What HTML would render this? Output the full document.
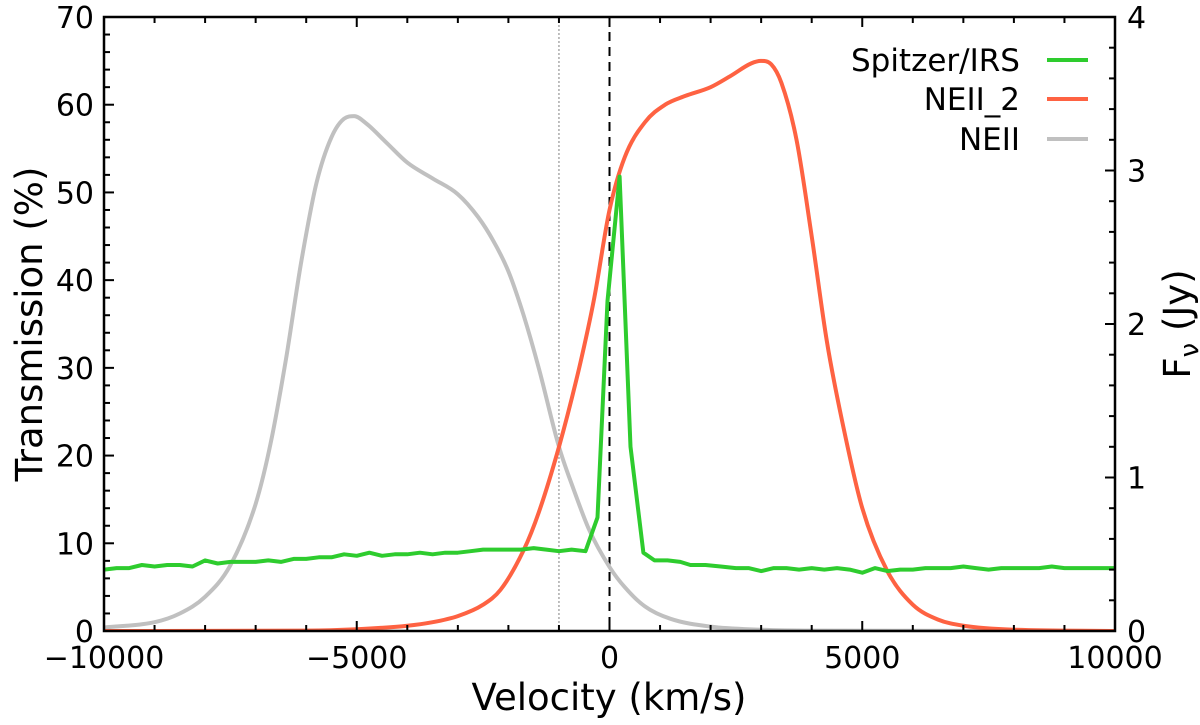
<!DOCTYPE html>
<html><head><meta charset="utf-8"><style>
body{margin:0;background:#fff;}
svg{display:block;font-family:"DejaVu Sans","Liberation Sans",sans-serif;}
</style></head><body>
<svg id="chart" width="1200" height="725" viewBox="0 0 1200 725"></svg>
<script>
// ---- data ----
const neiiV = [-10000,-9000,-8500,-8000,-7500,-7000,-6700,-6400,-6100,-5800,-5500,-5250,-5050,-4800,-4400,-4000,-3500,-3000,-2600,-2300,-2000,-1700,-1400,-1000,-700,-400,0,300,700,1200,2000,3000,4000,10000];
const neiiT = [0.4,1.0,2.0,3.9,7.5,14.5,21.5,31,42,51,56.3,58.4,58.7,57.8,55.6,53.4,51.6,49.8,47.2,44.5,41,36,30,21,16,11.5,7.3,5,2.8,1.4,0.5,0.15,0.05,0];
const neii2V = [-10000,-6000,-5000,-4000,-3500,-3000,-2500,-2156,-1700,-1400,-1000,-600,-300,0,300,700,1100,1500,2000,2400,2800,3000,3200,3400,3700,4000,4300,4600,5000,5500,6000,6500,7000,8000,10000];
const neii2T = [0,0.05,0.2,0.6,1.0,1.7,3.0,4.7,9.2,13.5,21,30,38,48,54,58,60,61,62,63.3,64.7,65,64.6,62.5,56,45,33,24,14,6.8,3,1.3,0.6,0.15,0];
const irsV = [-10000,-9750,-9500,-9250,-9000,-8750,-8500,-8250,-8000,-7750,-7500,-7250,-7000,-6750,-6500,-6250,-6000,-5750,-5500,-5250,-5000,-4750,-4500,-4250,-4000,-3750,-3500,-3250,-3000,-2750,-2500,-2250,-2000,-1750,-1500,-1250,-1000,-750,-475,-237,-40,200,415,670,890,1150,1400,1600,1900,2200,2500,2750,3000,3250,3500,3750,4000,4250,4500,4750,5000,5250,5500,5750,6000,6250,6500,6750,7000,7250,7500,7750,8000,8250,8500,8750,9000,9250,9500,9750,10000];
const irsF = [0.40,0.41,0.41,0.43,0.42,0.43,0.43,0.42,0.46,0.44,0.45,0.45,0.45,0.46,0.45,0.47,0.47,0.48,0.48,0.50,0.49,0.51,0.49,0.50,0.50,0.51,0.50,0.51,0.51,0.52,0.53,0.53,0.53,0.53,0.54,0.53,0.52,0.53,0.52,0.74,2.15,2.96,1.20,0.51,0.46,0.46,0.45,0.43,0.43,0.42,0.41,0.41,0.39,0.41,0.41,0.40,0.41,0.40,0.41,0.40,0.38,0.41,0.39,0.40,0.40,0.41,0.41,0.41,0.42,0.41,0.40,0.41,0.41,0.41,0.41,0.42,0.41,0.41,0.41,0.41,0.41];
const xTicks = [-10000,-5000,0,5000,10000];
const xTickLabels = ["\u221210000","\u22125000","0","5000","10000"];
const yTicks = [0,10,20,30,40,50,60,70];
const y2Ticks = [0,1,2,3,4];

// ---- layout ----
const L=104,R=1115,T=17,B=631;
const sx=v=>L+(v+10000)/20000*(R-L);
const sy=v=>B-v/70*(B-T);
const sy2=v=>B-v/4*(B-T);
const svg=document.getElementById('chart');
const NS='http://www.w3.org/2000/svg';
function mk(tag,attrs,parent){const e=document.createElementNS(NS,tag);for(const k in attrs)e.setAttribute(k,attrs[k]);(parent||svg).appendChild(e);return e;}

function smoothPath(xs,ys){
  const n=xs.length,d=[],m=new Array(n);
  for(let i=0;i<n-1;i++)d.push((ys[i+1]-ys[i])/(xs[i+1]-xs[i]));
  m[0]=d[0];m[n-1]=d[n-2];
  for(let i=1;i<n-1;i++){m[i]=(d[i-1]*d[i]<=0)?0:(d[i-1]+d[i])/2;}
  for(let i=0;i<n-1;i++){
    if(d[i]===0){m[i]=0;m[i+1]=0;continue;}
    const a=m[i]/d[i],b=m[i+1]/d[i],s=a*a+b*b;
    if(s>9){const t=3/Math.sqrt(s);m[i]=t*a*d[i];m[i+1]=t*b*d[i];}
  }
  let p='M'+xs[0].toFixed(1)+','+ys[0].toFixed(1);
  for(let i=0;i<n-1;i++){const h=(xs[i+1]-xs[i])/3;
    p+=`C${(xs[i]+h).toFixed(1)},${(ys[i]+m[i]*h).toFixed(1)} ${(xs[i+1]-h).toFixed(1)},${(ys[i+1]-m[i+1]*h).toFixed(1)} ${xs[i+1].toFixed(1)},${ys[i+1].toFixed(1)}`;}
  return p;
}
const defs=mk('defs',{});
const cp=mk('clipPath',{id:'clip'},defs);mk('rect',{x:L,y:T,width:R-L,height:B-T},cp);
const g=mk('g',{'clip-path':'url(#clip)'});



let e=mk('line',{x1:sx(-1000),x2:sx(-1000),y1:T,y2:B,stroke:'#aaa','stroke-width':1.5,'stroke-dasharray':'2,2'},g);

e=mk('line',{x1:sx(0),x2:sx(0),y1:T,y2:B,stroke:'#000','stroke-width':2,'stroke-dasharray':'9,6'},g);


e=mk('path',{d:smoothPath(neiiV.map(sx),neiiT.map(sy)),fill:'none',stroke:'#c0c0c0','stroke-width':4},g);

e=mk('path',{d:smoothPath(neii2V.map(sx),neii2T.map(sy)),fill:'none',stroke:'#fe6242','stroke-width':4},g);

e=mk('polyline',{points:irsV.map((v,i)=>sx(v).toFixed(1)+','+sy2(irsF[i]).toFixed(1)).join(' '),fill:'none',stroke:'#2ecc2e','stroke-width':4,'stroke-linejoin':'round'},g);


e=mk('rect',{x:L,y:T,width:R-L,height:B-T,fill:'none',stroke:'#000','stroke-width':2.5});

const tk=mk('g',{stroke:'#000','stroke-width':2});

for(let v=-10000;v<=10000;v+=1000){const maj=v%5000===0;const len=maj?10:6;const x=sx(v);
  mk('line',{x1:x,x2:x,y1:B,y2:B-len},tk);mk('line',{x1:x,x2:x,y1:T,y2:T+len},tk);}
for(let v=0;v<=70;v+=2){const maj=v%10===0;const len=maj?10:6;mk('line',{x1:L,x2:L+len,y1:sy(v),y2:sy(v)},tk);}
for(let v=0;v<=4.001;v+=0.2){const maj=Math.abs(v-Math.round(v))<1e-6;const len=maj?10:6;mk('line',{x1:R,x2:R-len,y1:sy2(v),y2:sy2(v)},tk);}

xTicks.forEach((v,i)=>{const t=mk('text',{x:sx(v),y:B+37,'font-size':30,'text-anchor':'middle'});t.textContent=xTickLabels[i];
  });
yTicks.forEach(v=>{const t=mk('text',{x:L-10,y:sy(v)+11,'font-size':30,'text-anchor':'end'});t.textContent=v;
  });
y2Ticks.forEach(v=>{const t=mk('text',{x:R+12,y:sy2(v)+11,'font-size':30,'text-anchor':'start'});t.textContent=v;
  });

let t=mk('text',{x:609,y:710,'font-size':37,'text-anchor':'middle'});t.textContent='Velocity (km/s)';

t=mk('text',{x:0,y:0,'font-size':37,'text-anchor':'middle',transform:`translate(42,${(T+B)/2}) rotate(-90)`});t.textContent='Transmission (%)';

t=mk('text',{x:0,y:0,'font-size':37,'text-anchor':'middle',transform:`translate(1190,${(T+B)/2}) rotate(-90)`});
t.innerHTML='F<tspan font-size="26" dy="8">ν</tspan><tspan dy="-8"> (Jy)</tspan>';


const leg=mk('g',{});
[['Spitzer/IRS','#2ecc2e',60],['NEII_2','#fe6242',99],['NEII','#c0c0c0',139]].forEach(([n,c,y])=>{
  const it=mk('g',{},leg);
  const tt=mk('text',{x:1020,y:y+11,'font-size':31,'text-anchor':'end'},it);tt.textContent=n;
  mk('line',{x1:1047,x2:1088,y1:y,y2:y,stroke:c,'stroke-width':4},it);
});
</script>
</body></html>
